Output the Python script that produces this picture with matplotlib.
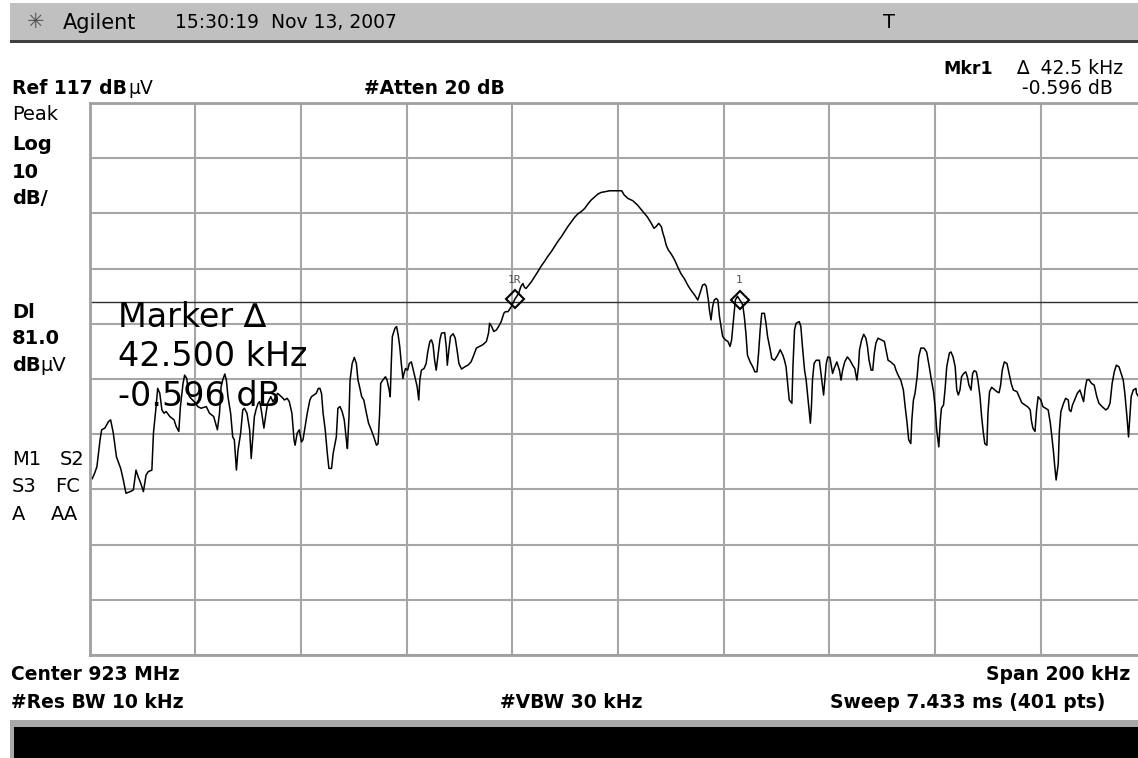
import numpy as np
import matplotlib
matplotlib.use("Agg")
import matplotlib.pyplot as plt
from matplotlib.patches import Rectangle

# spectrum analyser settings
ref_level = 117.0        # dBuV, top of screen
db_per_div = 10.0
span_khz = 200.0
display_line = 81.0      # dBuV

# trace: offset from 923 MHz centre (kHz) and level (dBuV)
trace_khz = [
    -100.0, -99.5, -99.0, -98.6, -98.0, -97.7, -97.1, -96.4, -96.0, -95.5,
    -94.9, -94.1, -93.6, -93.1, -92.3, -91.7, -91.2, -90.8, -90.3, -89.8,
    -89.3, -88.9, -88.2, -87.9, -87.4, -87.1, -86.7, -86.3, -85.9, -85.5,
    -84.8, -84.0, -83.6, -83.1, -82.8, -82.3, -82.0, -81.6, -81.4, -81.1,
    -80.2, -79.5, -78.9, -77.9, -77.3, -76.5, -75.8, -75.4, -75.1, -74.8,
    -74.4, -74.1, -73.8, -73.3, -72.9, -72.6, -72.2, -71.9, -71.4, -71.0,
    -70.7, -70.2, -69.7, -69.4, -69.1, -68.8, -68.5, -68.1, -67.8, -67.5,
    -67.0, -66.6, -66.3, -65.7, -65.3, -64.9, -64.4, -63.7, -63.1, -62.6,
    -62.2, -61.7, -61.3, -61.1, -60.7, -60.3, -59.9, -59.6, -58.8, -58.3,
    -58.0, -57.1, -56.7, -56.4, -56.1, -55.8, -55.4, -55.0, -54.7, -54.2,
    -53.9, -53.3, -53.0, -52.6, -52.2, -51.8, -51.4, -51.2, -50.9, -50.7,
    -50.3, -49.9, -49.5, -49.2, -48.9, -48.5, -48.1, -47.6, -47.2, -46.7,
    -46.2, -45.7, -45.4, -45.1, -44.9, -44.5, -44.0, -43.7, -43.3, -43.1,
    -42.9, -42.7, -42.2, -41.9, -41.6, -41.3, -41.0, -40.7, -40.5, -40.2,
    -39.8, -39.5, -39.1, -38.8, -38.3, -38.0, -37.7, -37.5, -37.2, -36.7,
    -36.3, -36.0, -35.6, -35.3, -35.0, -34.7, -34.4, -34.1, -33.7, -33.4,
    -32.8, -32.5, -32.3, -32.0, -31.7, -31.2, -30.8, -30.4, -30.1, -29.6,
    -29.0, -28.4, -27.8, -27.3, -26.8, -26.2, -25.6, -24.9, -24.5, -24.3,
    -23.9, -23.5, -23.0, -22.6, -22.1, -21.6, -21.3, -20.8, -20.2, -19.5,
    -18.8, -18.4, -18.0, -17.7, -17.4, -16.9, -16.4, -15.8, -15.2, -14.5,
    -13.9, -13.3, -12.6, -12.0, -11.4, -10.7, -10.1, -9.5, -8.8, -8.2,
    -7.6, -7.0, -6.3, -5.7, -5.1, -4.4, -3.8, -3.2, -2.6, -1.6,
    -0.3, 0.7, 1.2, 1.9, 2.8, 3.7, 4.4, 5.0, 5.6, 6.3,
    6.8, 7.2, 7.7, 8.2, 8.5, 8.8, 9.1, 9.5, 10.1, 10.7,
    11.3, 11.9, 12.6, 13.2, 13.8, 14.5, 15.1, 15.4, 15.7, 16.0,
    16.4, 16.7, 16.9, 17.1, 17.3, 17.6, 17.9, 18.2, 18.6, 18.9,
    19.2, 19.5, 19.8, 20.3, 20.8, 21.2, 21.5, 21.9, 22.2, 22.6,
    23.0, 23.4, 23.6, 23.9, 24.2, 24.5, 25.0, 25.5, 25.9, 26.3,
    26.6, 26.9, 27.2, 27.7, 28.0, 28.3, 28.8, 29.1, 29.6, 30.2,
    30.7, 31.2, 31.5, 31.8, 32.1, 32.4, 32.9, 33.1, 33.4, 33.7,
    34.3, 34.6, 34.9, 35.3, 35.6, 35.9, 36.2, 36.4, 36.6, 36.8,
    37.1, 37.5, 38.1, 38.4, 38.7, 38.9, 39.2, 39.4, 39.7, 40.1,
    40.4, 40.6, 40.9, 41.4, 41.9, 42.2, 42.5, 42.9, 43.4, 43.9,
    44.4, 44.8, 45.2, 45.5, 45.7, 46.1, 46.5, 46.9, 47.2, 47.5,
    47.9, 48.2, 48.5, 48.8, 49.2, 49.8, 50.4, 50.7, 51.1, 51.6,
    52.3, 52.6, 53.0, 53.5, 54.0, 54.3, 54.7, 55.0, 55.4, 55.6,
    55.9, 56.2, 56.6, 56.9, 57.3, 57.9, 58.4, 58.9, 59.3, 59.7,
    60.0, 60.3, 60.7, 61.0, 61.2, 61.6, 61.9, 62.2, 62.7, 63.0,
    63.4, 63.8, 64.1, 64.4, 64.7, 65.0, 65.4, 65.8, 66.1, 66.4,
    66.8, 67.1, 67.4, 67.8, 68.1, 68.5, 68.8, 69.1, 69.4, 69.8,
    70.0, 70.3, 70.7, 71.2, 71.7, 72.1, 72.4, 72.7, 73.1, 73.6,
    74.0, 74.4, 74.8, 75.5, 75.9, 76.4, 77.0, 77.6, 78.0, 78.2,
    78.5, 78.9, 79.2, 79.5, 80.0, 80.4, 80.9, 81.4, 81.8, 82.1,
    82.4, 82.6, 82.9, 83.3, 83.5, 83.8, 84.3, 84.7, 85.2, 85.4,
    85.7, 86.0, 86.4, 86.9, 87.4, 87.7, 88.1, 88.4, 88.7, 89.1,
    89.6, 90.1, 90.6, 91.0, 91.6, 92.3, 92.7, 93.1, 93.5, 93.9,
    94.3, 94.8, 95.2, 95.6, 95.9, 96.3, 96.6, 96.9, 97.1, 97.5,
    98.0, 98.1, 99.0, 100.0,
]
trace_dbuv = [
    49.3, 48.9, 50.0, 51.1, 56.0, 57.8, 58.1, 59.3, 59.6, 57.2,
    52.9, 50.8, 48.7, 46.3, 46.6, 46.9, 50.5, 49.3, 48.1, 46.6,
    49.6, 50.2, 50.5, 57.2, 62.0, 65.3, 64.4, 61.4, 60.8, 61.1,
    60.2, 59.6, 58.4, 57.5, 62.0, 66.2, 67.7, 67.1, 65.6, 63.8,
    62.9, 62.0, 61.7, 62.0, 60.8, 60.2, 57.8, 60.8, 65.6, 66.8,
    67.9, 66.8, 63.8, 60.8, 56.5, 56.0, 50.5, 54.1, 57.2, 61.4,
    61.7, 60.8, 57.8, 52.6, 56.5, 60.2, 61.4, 62.6, 62.9, 61.4,
    58.1, 60.8, 62.6, 63.8, 62.9, 63.5, 64.4, 63.8, 63.2, 63.5,
    62.9, 60.8, 56.0, 55.0, 57.2, 57.8, 55.6, 56.0, 60.8, 63.2,
    63.8, 64.4, 65.3, 65.3, 64.4, 60.8, 57.8, 53.5, 50.8, 50.8,
    53.5, 56.5, 61.7, 62.0, 61.1, 59.6, 56.0, 54.4, 60.2, 66.8,
    69.8, 70.9, 69.8, 66.8, 65.6, 63.8, 63.2, 60.8, 59.0, 57.8,
    56.5, 55.0, 55.3, 60.8, 66.2, 66.8, 67.4, 66.8, 65.0, 63.8,
    69.8, 74.7, 76.2, 76.5, 75.0, 72.9, 69.8, 67.1, 68.0, 68.9,
    68.6, 69.8, 70.1, 68.9, 66.8, 65.6, 63.2, 66.8, 68.6, 68.9,
    69.8, 71.9, 73.8, 74.1, 73.2, 70.4, 68.6, 71.0, 74.1, 75.3,
    75.4, 72.9, 69.5, 72.3, 74.7, 75.2, 74.4, 71.9, 69.8, 68.8,
    69.2, 69.5, 70.1, 71.3, 72.6, 72.9, 73.2, 73.8, 75.3, 77.1,
    76.5, 75.6, 75.9, 76.5, 77.4, 78.9, 79.2, 79.2, 80.1, 81.5,
    82.5, 83.7, 84.3, 83.6, 83.4, 84.0, 84.6, 85.5, 86.4, 87.5,
    88.3, 89.2, 90.1, 91.0, 91.9, 92.8, 93.7, 94.6, 95.5, 96.3,
    96.9, 97.3, 97.9, 98.7, 99.4, 100.0, 100.5, 100.8, 100.9, 101.1,
    101.1, 101.1, 100.3, 99.7, 99.3, 98.5, 97.7, 97.0, 96.3, 95.2,
    94.3, 94.6, 95.2, 94.6, 93.4, 92.5, 91.3, 90.4, 89.6, 88.6,
    87.3, 86.1, 85.1, 84.0, 83.1, 82.2, 81.3, 82.2, 83.1, 84.0,
    84.2, 83.8, 82.5, 81.3, 79.5, 77.7, 80.1, 81.3, 81.6, 81.3,
    78.3, 76.5, 74.7, 74.1, 73.8, 72.9, 74.1, 78.3, 81.3, 82.0,
    81.4, 80.8, 80.4, 78.3, 75.3, 71.3, 70.1, 69.2, 68.3, 68.3,
    71.7, 75.9, 78.9, 78.9, 77.1, 74.7, 72.3, 70.7, 70.4, 71.3,
    72.3, 71.3, 70.4, 69.2, 66.2, 63.2, 62.6, 69.2, 75.9, 77.1,
    77.4, 76.5, 72.9, 68.6, 66.8, 63.8, 60.8, 59.0, 62.0, 66.8,
    69.8, 70.4, 70.4, 68.0, 65.6, 64.1, 67.4, 69.8, 71.0, 70.9,
    69.2, 68.0, 68.9, 70.1, 68.6, 66.8, 68.6, 70.1, 71.0, 70.4,
    69.5, 68.9, 66.8, 69.2, 72.3, 74.1, 75.1, 74.4, 72.9, 70.4,
    68.6, 68.6, 71.7, 73.5, 74.4, 74.1, 73.8, 72.3, 70.4, 70.1,
    69.5, 68.6, 67.7, 66.8, 65.0, 62.3, 59.0, 56.0, 55.3, 59.6,
    63.2, 64.4, 67.4, 71.0, 72.6, 72.6, 71.9, 69.2, 66.8, 64.7,
    62.0, 57.8, 54.7, 59.6, 61.7, 62.3, 65.3, 69.2, 71.7, 71.9,
    71.0, 69.2, 65.0, 64.1, 65.0, 67.4, 68.0, 68.3, 67.4, 65.9,
    65.0, 68.0, 68.5, 68.3, 66.8, 63.8, 60.2, 57.5, 55.3, 55.0,
    60.8, 64.7, 65.5, 65.1, 64.7, 64.5, 65.9, 68.6, 70.1, 69.8,
    68.0, 66.2, 65.0, 64.7, 63.8, 62.7, 62.3, 61.9, 61.4, 59.6,
    58.1, 57.5, 61.4, 63.8, 63.2, 62.0, 61.7, 61.4, 59.0, 56.5,
    53.8, 51.6, 48.7, 51.6, 57.4, 61.1, 62.6, 63.5, 63.2, 61.4,
    61.1, 62.3, 63.2, 64.4, 65.0, 64.1, 62.9, 65.3, 66.8, 66.9,
    66.2, 65.9, 63.8, 62.6, 62.0, 61.4, 61.7, 62.6, 66.2, 68.3,
    69.5, 69.2, 68.0, 66.8, 64.4, 60.2, 56.5, 60.8, 63.8, 65.0,
    65.3, 64.4, 63.0, 62.5,
]
assert len(trace_khz) == len(trace_dbuv)

marker_names = ["1R", "1"]
marker_khz = [-19.5, 23.0]

W, H = 1138, 758


def fx(px):
    return px / W


def fy(py):
    return 1 - py / H


fig = plt.figure(figsize=(W / 100, H / 100), dpi=100)
fig.patch.set_facecolor("white")

# title bar and bottom message bar
fig.add_artist(Rectangle((fx(10), fy(40)), 1, 37 / H, transform=fig.transFigure,
                         facecolor="#c0c0c0", edgecolor="none"))
fig.add_artist(Rectangle((fx(10), fy(43)), 1, 3 / H, transform=fig.transFigure,
                         facecolor="#404040", edgecolor="none"))
fig.add_artist(Rectangle((fx(10), fy(758)), 1, 38 / H, transform=fig.transFigure,
                         facecolor="#a8a8a8", edgecolor="none"))
fig.add_artist(Rectangle((fx(14), fy(758)), 1, 31 / H, transform=fig.transFigure,
                         facecolor="black", edgecolor="none"))

# graticule (right edge runs off the screenshot)
ax = fig.add_axes([fx(89.5), fy(655), (1146.5 - 89.5) / W, (655 - 103) / H])
ax.set_xlim(-span_khz / 2, span_khz / 2)
ax.set_ylim(ref_level - 10 * db_per_div, ref_level)
ax.set_xticks(np.linspace(-span_khz / 2, span_khz / 2, 11))
ax.set_yticks(np.linspace(ref_level - 10 * db_per_div, ref_level, 11))
ax.tick_params(length=0, labelbottom=False, labelleft=False)
ax.grid(True, color="#a6a6a6", lw=1.5)
for sp in ax.spines.values():
    sp.set_color("#a0a0a0")
    sp.set_linewidth(2)
ax.set_axisbelow(True)

ax.axhline(display_line, color="#303030", lw=1.0)
ax.plot(trace_khz, trace_dbuv, color="black", lw=1.1)

marker_levels = np.interp(marker_khz, trace_khz, trace_dbuv)
ax.plot(marker_khz, marker_levels, "D", ms=9, mfc="none", mec="black", mew=1.5)
for name, k, lv in zip(marker_names, marker_khz, marker_levels):
    ax.annotate(name, (k, lv), xytext=(0, 14), textcoords="offset points",
                ha="center", va="center", fontsize=8, color="#505050",
                family="DejaVu Sans Mono")

# big marker readout on screen
for txt, y in [("Marker \u2206", 317), ("42.500 kHz", 357), ("-0.596 dB", 397)]:
    fig.text(fx(118), fy(y), txt, fontsize=24, va="center", ha="left")

# header
fig.text(fx(36), fy(22), "\u2733", fontsize=15, color="#505050", va="center", ha="center")
fig.text(fx(63), fy(23), "Agilent", fontsize=15, va="center")
fig.text(fx(175), fy(23), "15:30:19  Nov 13, 2007", fontsize=13.5, va="center")
fig.text(fx(889), fy(23), "T", fontsize=14, va="center", ha="center")
fig.text(fx(943), fy(69), "Mkr1", fontsize=12.5, weight="bold", va="center")
fig.text(fx(1123), fy(69), "\u2206  42.5 kHz", fontsize=13.5, va="center", ha="right")
fig.text(fx(1113), fy(89), "-0.596 dB", fontsize=13.5, va="center", ha="right")
fig.text(fx(12), fy(89), "Ref 117 dB", fontsize=13.5, weight="bold", va="center")
fig.text(fx(128), fy(89), "\u00b5V", fontsize=13.5, va="center")
fig.text(fx(364), fy(89), "#Atten 20 dB", fontsize=13.5, weight="bold", va="center")

# left annotation column
side = [("Peak", 12, 115, "normal"), ("Log", 12, 144, "bold"), ("10", 12, 172, "bold"),
        ("dB/", 12, 198, "bold"), ("Dl", 12, 313, "bold"), ("81.0", 12, 339, "bold"),
        ("dB", 12, 365, "bold"), ("\u00b5V", 40, 365, "normal"),
        ("M1", 12, 459, "normal"), ("S2", 60, 459, "normal"),
        ("S3", 12, 487, "normal"), ("FC", 55, 487, "normal"),
        ("A", 12, 514, "normal"), ("AA", 51, 514, "normal")]
for txt, x, y, w in side:
    fig.text(fx(x), fy(y), txt, fontsize=14, weight=w, va="center")

# footer
fig.text(fx(11), fy(674), "Center 923 MHz", fontsize=13.5, weight="bold", va="center")
fig.text(fx(1130), fy(674), "Span 200 kHz", fontsize=13.5, weight="bold", va="center", ha="right")
fig.text(fx(11), fy(703), "#Res BW 10 kHz", fontsize=13.5, weight="bold", va="center")
fig.text(fx(500), fy(703), "#VBW 30 kHz", fontsize=13.5, weight="bold", va="center")
fig.text(fx(1105), fy(703), "Sweep 7.433 ms (401 pts)", fontsize=13.5, weight="bold",
         va="center", ha="right")

fig.savefig("out.png", dpi=100)
